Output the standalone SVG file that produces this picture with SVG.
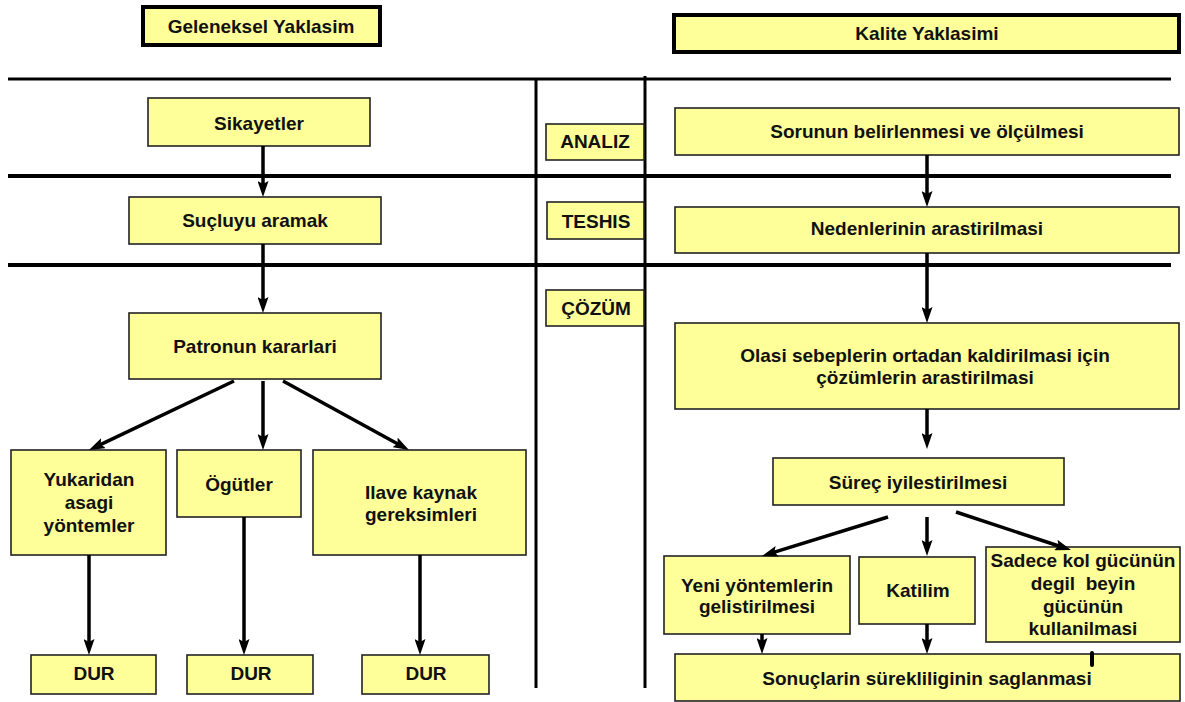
<svg xmlns="http://www.w3.org/2000/svg" width="1185" height="702" viewBox="0 0 1185 702">
<style>
  .box { fill: #FFFF99; stroke: #222; stroke-width: 1.6; }
  .hdr { fill: #FFFF99; stroke: #000; stroke-width: 4; }
  .t { font-family: "Liberation Sans", Arial, sans-serif; font-size: 19px; font-weight: bold; fill: #111; text-anchor: middle; }
  .rule { stroke: #000; stroke-width: 4; fill: none; }
  .vrule { stroke: #000; stroke-width: 3; fill: none; }
  .c { stroke: #000; stroke-width: 3.5; fill: none; marker-end: url(#ah); }
</style>
<defs>
  <marker id="ah" markerUnits="userSpaceOnUse" markerWidth="17" markerHeight="11" refX="8" refY="5.5" orient="auto">
    <path d="M0,0 L16,5.5 L0,11 L3,5.5 z" fill="#000"/>
  </marker>
</defs>
<rect width="1185" height="702" fill="#fff"/>

<g id="rules">
  <line class="rule" x1="8" y1="79" x2="1171" y2="79" style="stroke-width:3"/>
  <line class="rule" x1="8" y1="176" x2="1171" y2="176"/>
  <line class="rule" x1="8" y1="265" x2="1171" y2="265"/>
  <line class="vrule" x1="536" y1="79" x2="536" y2="688"/>
  <line class="vrule" x1="645" y1="76" x2="645" y2="688"/>
</g>

<g id="hdr-geleneksel"><rect class="hdr" x="143" y="7" width="237" height="38"/><text class="t" x="261" y="33">Geleneksel Yaklasim</text></g>
<g id="hdr-kalite"><rect class="hdr" x="674" y="15" width="505" height="37"/><text class="t" x="927" y="40">Kalite Yaklasimi</text></g>

<g id="sikayetler"><rect class="box" x="148" y="98" width="222" height="48"/><text class="t" x="259" y="130">Sikayetler</text></g>
<g id="suclu"><rect class="box" x="129" y="197" width="252" height="47"/><text class="t" x="255" y="227">Suçluyu aramak</text></g>
<g id="patron"><rect class="box" x="129" y="313" width="252" height="66"/><text class="t" x="255" y="353">Patronun kararlari</text></g>
<g id="yukaridan"><rect class="box" x="11" y="450" width="155" height="105"/><text class="t" x="89" y="486">Yukaridan</text><text class="t" x="89" y="509">asagi</text><text class="t" x="89" y="532">yöntemler</text></g>
<g id="ogutler"><rect class="box" x="177" y="450" width="124" height="67"/><text class="t" x="239" y="491">Ögütler</text></g>
<g id="ilave"><rect class="box" x="313" y="450" width="213" height="105"/><text class="t" x="421" y="499">Ilave kaynak</text><text class="t" x="421" y="521">gereksimleri</text></g>
<g id="dur1"><rect class="box" x="31" y="655" width="125" height="39"/><text class="t" x="94" y="680">DUR</text></g>
<g id="dur2"><rect class="box" x="187" y="655" width="126" height="39"/><text class="t" x="251" y="680">DUR</text></g>
<g id="dur3"><rect class="box" x="362" y="655" width="127" height="39"/><text class="t" x="426" y="680">DUR</text></g>

<g id="analiz"><rect class="box" x="546" y="124" width="98" height="36"/><text class="t" x="595" y="148">ANALIZ</text></g>
<g id="teshis"><rect class="box" x="547" y="202" width="97" height="37"/><text class="t" x="596" y="228">TESHIS</text></g>
<g id="cozum"><rect class="box" x="546" y="290" width="98" height="36"/><text class="t" x="596" y="315">ÇÖZÜM</text></g>

<g id="sorunun"><rect class="box" x="675" y="108" width="504" height="47"/><text class="t" x="927" y="138">Sorunun belirlenmesi ve ölçülmesi</text></g>
<g id="nedenler"><rect class="box" x="675" y="207" width="504" height="46"/><text class="t" x="927" y="235">Nedenlerinin arastirilmasi</text></g>
<g id="olasi"><rect class="box" x="675" y="323" width="504" height="86"/><text class="t" x="925" y="362">Olasi sebeplerin ortadan kaldirilmasi için</text><text class="t" x="925" y="384">çözümlerin arastirilmasi</text></g>
<g id="surec"><rect class="box" x="773" y="458" width="291" height="47"/><text class="t" x="918" y="489">Süreç iyilestirilmesi</text></g>
<g id="yeni"><rect class="box" x="664" y="556" width="186" height="78"/><text class="t" x="757" y="592">Yeni yöntemlerin</text><text class="t" x="757" y="613">gelistirilmesi</text></g>
<g id="katilim"><rect class="box" x="859" y="557" width="116" height="67"/><text class="t" x="918" y="597">Katilim</text></g>
<g id="sadece"><rect class="box" x="986" y="547" width="194" height="95"/><text class="t" x="1083" y="567">Sadece kol gücünün</text><text class="t" x="1083" y="590" style="white-space:pre">degil  beyin</text><text class="t" x="1083" y="613">gücünün</text><text class="t" x="1083" y="635">kullanilmasi</text></g>
<g id="sonuc"><rect class="box" x="675" y="654" width="505" height="47"/><text class="t" x="927" y="685">Sonuçlarin sürekliliginin saglanmasi</text></g>

<g id="connectors">
  <line class="c" x1="263" y1="146" x2="263" y2="189"/>
  <line class="c" x1="263" y1="244" x2="263" y2="305"/>
  <line class="c" x1="234" y1="381" x2="96.2" y2="446.6"/>
  <line class="c" x1="263" y1="381" x2="263" y2="442"/>
  <line class="c" x1="283" y1="381" x2="402" y2="446.2"/>
  <line class="c" x1="89" y1="555" x2="89" y2="647"/>
  <line class="c" x1="244" y1="517" x2="244" y2="647"/>
  <line class="c" x1="420" y1="555" x2="420" y2="647"/>
  <line class="c" x1="927" y1="155" x2="927" y2="199"/>
  <line class="c" x1="927" y1="253" x2="927" y2="315"/>
  <line class="c" x1="927" y1="409" x2="927" y2="441"/>
  <line class="c" x1="888" y1="517" x2="769.6" y2="553.6"/>
  <line class="c" x1="927" y1="517" x2="927" y2="548"/>
  <line class="c" x1="956" y1="512" x2="1063.4" y2="547.5"/>
  <line class="c" x1="762" y1="634" x2="762" y2="646"/>
  <line class="c" x1="927" y1="624" x2="927" y2="646"/>
  <line x1="1092" y1="665" x2="1092" y2="653" stroke="#000" stroke-width="4" stroke-linecap="round"/>
</g>
</svg>
